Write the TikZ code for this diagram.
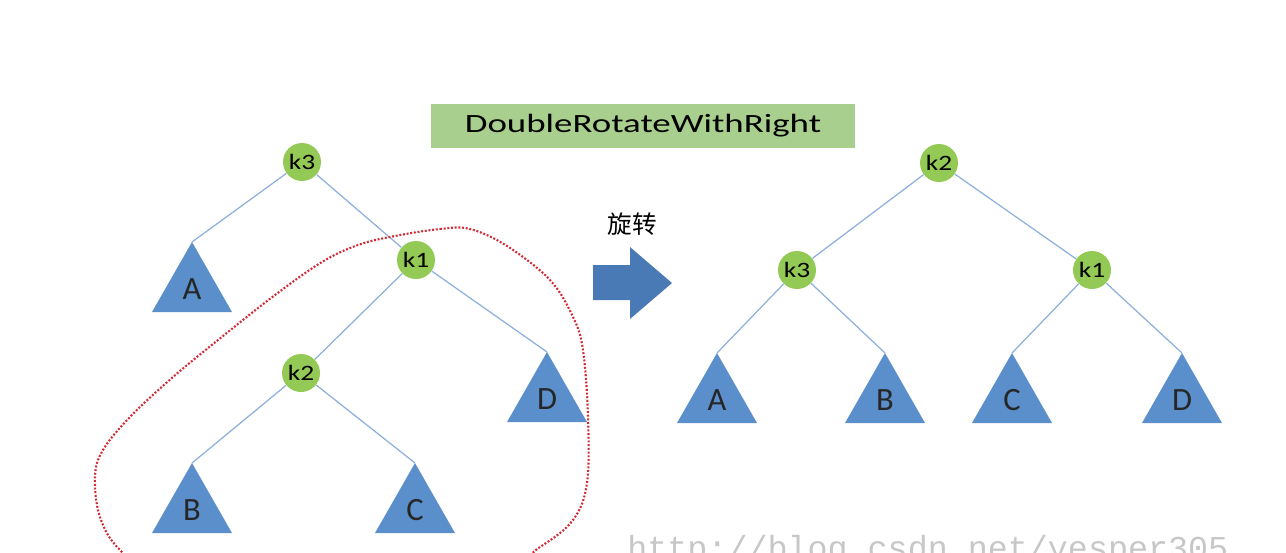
\documentclass[tikz,border=0pt]{standalone}
\usepackage{fontspec}
\setmainfont{Carlito}
\newfontfamily\stretchfont[FakeStretch=1.4]{Carlito}
\newfontfamily\kfont[FakeStretch=1.25]{Carlito}
\newfontfamily\cjkfont{Noto Sans CJK SC}
\newfontfamily\markfont{Liberation Mono}
\definecolor{keygreen}{HTML}{93C955}
\definecolor{titlegreen}{HTML}{A9CF8E}
\definecolor{treeblue}{HTML}{5B8FCB}
\definecolor{arrowblue}{HTML}{4A7AB5}
\definecolor{edgeblue}{HTML}{8CAFDC}
\definecolor{loopred}{HTML}{D42A34}
\begin{document}
\begin{tikzpicture}[
            x={(0.02cm,0cm)},
            y={(0cm,-0.02cm)},
            knode/.style={circle, fill=keygreen, minimum size=0.76cm, inner sep=0pt,
                font=\kfont\fontsize{12.5}{13}\selectfont},
            edge/.style={edgeblue, line width=0.7pt},
            tri/.style={fill=treeblue},
            lbl/.style={inner sep=0pt, font=\fontsize{18.5}{20}\selectfont, text=black!85}
        ]
        \useasboundingbox (0,0) rectangle (1286,552);

        % title
        \node[fill=titlegreen, minimum width=8.5cm, minimum height=0.88cm, inner sep=0pt,
            font=\stretchfont\fontsize{15}{16}\selectfont] (title) at (643,126) {DoubleRotateWithRight};

        % left tree
        \node[knode] (Lk3) at (302,162) {k3};
        \node[knode] (Lk1) at (416,260) {k1};
        \node[knode] (Lk2) at (301,373) {k2};
        \coordinate (LA) at (192,242);
        \coordinate (LB) at (192,463);
        \coordinate (LC) at (415,463);
        \coordinate (LD) at (547,352);

        % right tree
        \node[knode] (Rk2) at (939,163) {k2};
        \node[knode] (Rk3) at (797,270) {k3};
        \node[knode] (Rk1) at (1092,270) {k1};
        \coordinate (RA) at (717,353);
        \coordinate (RB) at (885,353);
        \coordinate (RC) at (1012,353);
        \coordinate (RD) at (1182,353);

        \draw[edge] (Lk3) -- (LA);
        \draw[edge] (Lk3) -- (Lk1);
        \draw[edge] (Lk1) -- (Lk2);
        \draw[edge] (Lk1) -- (LD);
        \draw[edge] (Lk2) -- (LB);
        \draw[edge] (Lk2) -- (LC);
        \draw[edge] (Rk2) -- (Rk3);
        \draw[edge] (Rk2) -- (Rk1);
        \draw[edge] (Rk3) -- (RA);
        \draw[edge] (Rk3) -- (RB);
        \draw[edge] (Rk1) -- (RC);
        \draw[edge] (Rk1) -- (RD);

        \foreach \t/\l in {LA/A, LB/B, LC/C, LD/D, RA/A, RB/B, RC/C, RD/D} {
            \fill[tri] (\t) -- ++(-40,70) -- ++(80,0) -- cycle;
            \path (\t) ++(0,47) node[lbl] (\t-text) {\l};
        }

        % rotation arrow
        \node[font=\cjkfont\fontsize{14}{15}\selectfont, inner sep=0pt] (rot) at (632,224) {旋转};
        \fill[arrowblue] (593,265) -- (630,265) -- (630,247) -- (672,283)
            -- (630,319) -- (630,300) -- (593,300) -- cycle;

        % marked part of the left tree
        \begin{scope}
            \clip (0,0) rectangle (1286,552);
            \draw[loopred, line width=1.2pt, dash pattern=on 1.1pt off 1pt]
                plot[smooth cycle, tension=0.6] coordinates {(395,236) (440,229) (470,229) (507,246)
                (550,280) (573,317) (583,350) (588,417) (587,483) (573,520) (540,547)
                (490,575) (330,600) (170,588) (120,550) (100,517) (95,477) (103,450)
                (130,417) (173,377) (223,336) (275,295) (322,262) (358,245)};
            \node[anchor=base west, inner sep=0pt, text=black!22,
                font=\markfont\fontsize{19}{20}\selectfont] (mark) at (627,559) {http://blog.csdn.net/yesper305};
        \end{scope}
    \end{tikzpicture}
\end{document}
